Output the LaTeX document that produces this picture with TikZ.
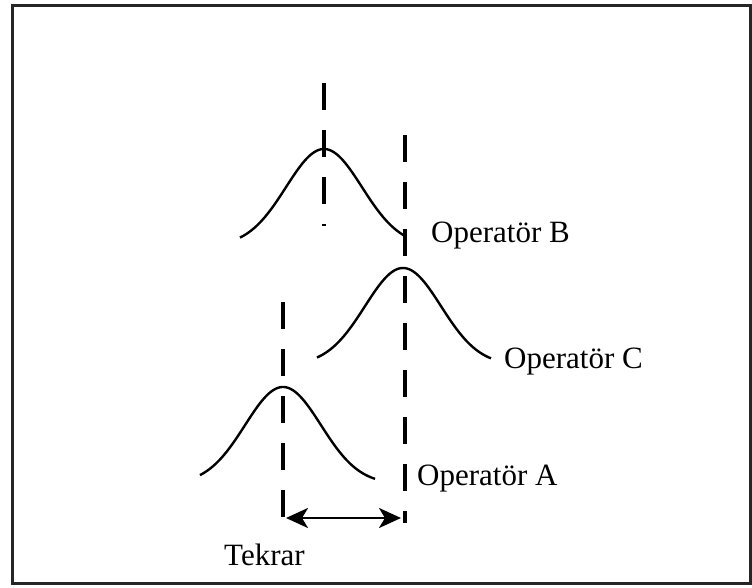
\documentclass[tikz,border=0pt]{standalone}
\usepackage{fontspec}
\setmainfont{Liberation Serif}
\usetikzlibrary{arrows.meta}
\begin{document}
\begin{tikzpicture}[x=1pt,y=-1pt,
  frame/.style={draw=black!85,line width=3pt},
  bell/.style={draw=black,line width=2.4pt},
  meanline/.style={draw=black,line width=4pt,dash pattern=on 27pt off 20pt},
  lbl/.style={font=\fontsize{31}{36}\selectfont,inner sep=0pt,anchor=base west},
  dbl/.style={line width=2.8pt,{Stealth[length=22pt,width=20pt,inset=6pt]}-{Stealth[length=22pt,width=20pt,inset=6pt]}}]
\useasboundingbox (0,0) rectangle (752,588);
\path[frame] (12,6) rectangle (750,583);
% mean lines
\coordinate (bt) at (324,83);
\coordinate (bb) at (324,226);
\coordinate (ct) at (405,135);
\coordinate (cb) at (405,523);
\coordinate (at) at (283,302);
\coordinate (ab) at (283,520);
\path[meanline] (bt) -- (bb);
\path[meanline] (ct) -- (cb);
\path[meanline] (at) -- (ab);
% bell curves
\path[bell] plot[domain=-84:80,samples=80,smooth] ({324+\x},{246-97*exp(-0.5*(\x/38)*(\x/38))});
\path[bell] plot[domain=-86:88,samples=80,smooth] ({403+\x},{365-97*exp(-0.5*(\x/38)*(\x/38))});
\path[bell] plot[domain=-83:92,samples=80,smooth] ({283+\x},{484-97*exp(-0.5*(\x/38)*(\x/38))});
% arrow
\coordinate (al) at (286,518);
\coordinate (ar) at (401,518);
\draw[dbl] (al) -- (ar);
% labels
\node[lbl] (lb) at (431,242) {Operatör B};
\node[lbl] (lc) at (504,368) {Operatör C};
\node[lbl] (la) at (417,485) {Operatör A};
\node[lbl] (lt) at (224,565) {Tekrar};
\end{tikzpicture}
\end{document}
